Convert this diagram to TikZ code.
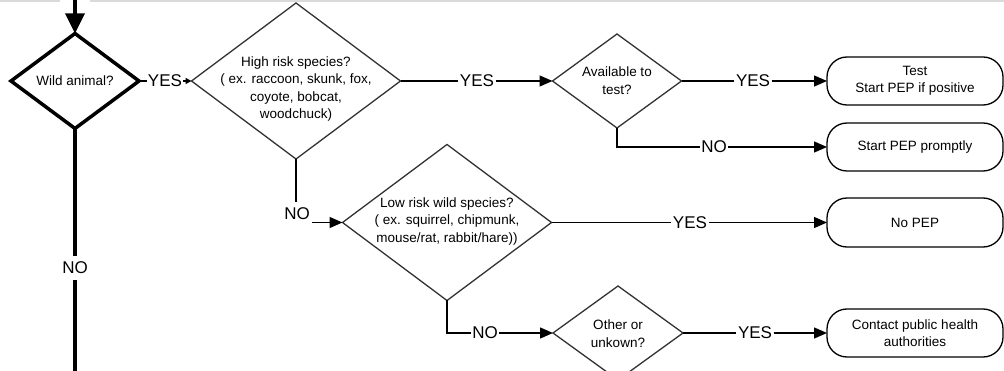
\documentclass[tikz,border=0pt]{standalone}
\usepackage{fontspec}
\setmainfont{Liberation Sans}
\usetikzlibrary{shapes.geometric,arrows.meta}
\definecolor{dgray}{RGB}{50,50,50}
\definecolor{band}{RGB}{218,218,218}
\begin{document}
\begin{tikzpicture}[x=1pt,y=-1pt,
  dia/.style={diamond,draw=dgray,line width=1.3pt,inner sep=0pt,outer sep=0pt},
  bigdia/.style={diamond,draw=black,line width=3.5pt,inner sep=0pt,outer sep=0pt},
  endbox/.style={rectangle,rounded corners=20pt,draw=black,line width=1.3pt,
    minimum width=176pt,minimum height=48pt,inner sep=0pt,outer sep=0pt,
    align=center,font=\fontsize{13.5}{17}\selectfont},
  txt/.style={align=center,inner sep=0pt,font=\fontsize{13.5}{17.5}\selectfont},
  lab/.style={inner xsep=1.5pt,inner ysep=4pt,font=\fontsize{17}{20}\selectfont},
  thin/.style={draw=black,line width=1.3pt},
  conn/.style={thin,-{Triangle[length=13pt,width=11pt]}},
  smallconn/.style={thin,-{Triangle[length=6pt,width=6pt]}},
  thickline/.style={draw=black,line width=3.5pt}
]
\useasboundingbox (0,0) rectangle (1004,371);
% top band
\fill[band] (0,0) rectangle (60,2.5);
\fill[band] (90,0) rectangle (1004,2.5);

% decision nodes
\node[bigdia,minimum width=128pt,minimum height=95pt] (wild) at (75,81) {};
\node[txt] (wildt) at (75,81) {Wild animal?};
\node[dia,minimum width=209pt,minimum height=156pt] (hr) at (296,81) {};
\node[txt] (hrt) at (296,89) {High risk species?\\( ex. raccoon, skunk, fox,\\coyote, bobcat,\\woodchuck)};
\node[dia,minimum width=129pt,minimum height=94pt] (av) at (617,81) {};
\node[txt] (avt) at (617,80.5) {Available to\\test?};
\node[dia,minimum width=209pt,minimum height=156pt] (lr) at (447,222.5) {};
\node[txt] (lrt) at (447,221.5) {Low risk wild species?\\( ex. squirrel, chipmunk,\\mouse/rat, rabbit/hare))};
\node[dia,minimum width=130pt,minimum height=94pt] (ot) at (618,333) {};
\node[txt] (ott) at (618,333.5) {Other or\\unkown?};

% end boxes
\node[endbox] (b1) at (915,81) {Test\\Start PEP if positive};
\node[endbox] (b2) at (915,147) {Start PEP promptly};
\node[endbox,minimum height=49pt] (b3) at (915,222.5) {No PEP};
\node[endbox] (b4) at (915,333) {Contact public health\\authorities};

% labels
\node[lab,inner ysep=6pt] (n1) at (75,268) {NO};
\node[lab,inner xsep=1pt] (y1) at (165,81) {YES};
\node[lab] (y2) at (477,81) {YES};
\node[lab] (y3) at (753,81) {YES};
\node[lab] (n3) at (714,147) {NO};
\node[lab,inner sep=0pt] (n2) at (297,214) {NO};
\node[lab] (y4) at (690,222.5) {YES};
\node[lab] (n4) at (485,333) {NO};
\node[lab] (y5) at (755,333) {YES};

% connectors
\coordinate (top) at (75,0);
\coordinate (bot) at (75,372);
\draw[thickline,-{Triangle[length=20pt,width=19pt]}] (top) -- (wild.north);
\draw[thickline] (wild.south) -- (n1.north);
\draw[thickline] (n1.south) -- (bot);

\draw[thin] (wild.east) -- (y1.west);
\draw[smallconn] (y1.east) -- (hr.west);

\draw[thin] (hr.east) -- (y2.west);
\draw[conn] (y2.east) -- (av.west);

\draw[thin] (av.east) -- (y3.west);
\draw[conn] (y3.east) -- (b1.west);

\draw[thin] (av.south) |- (n3.west);
\draw[conn] (n3.east) -- (b2.west);

\coordinate (c1) at (296,202);
\coordinate (c2) at (312,222.5);
\draw[thin] (hr.south) -- (c1);
\draw[conn] (c2) -- (lr.west);

\draw[thin] (lr.east) -- (y4.west);
\draw[conn] (y4.east) -- (b3.west);

\draw[thin] (lr.south) |- (n4.west);
\draw[conn] (n4.east) -- (ot.west);

\draw[thin] (ot.east) -- (y5.west);
\draw[conn] (y5.east) -- (b4.west);
\end{tikzpicture}
\end{document}
